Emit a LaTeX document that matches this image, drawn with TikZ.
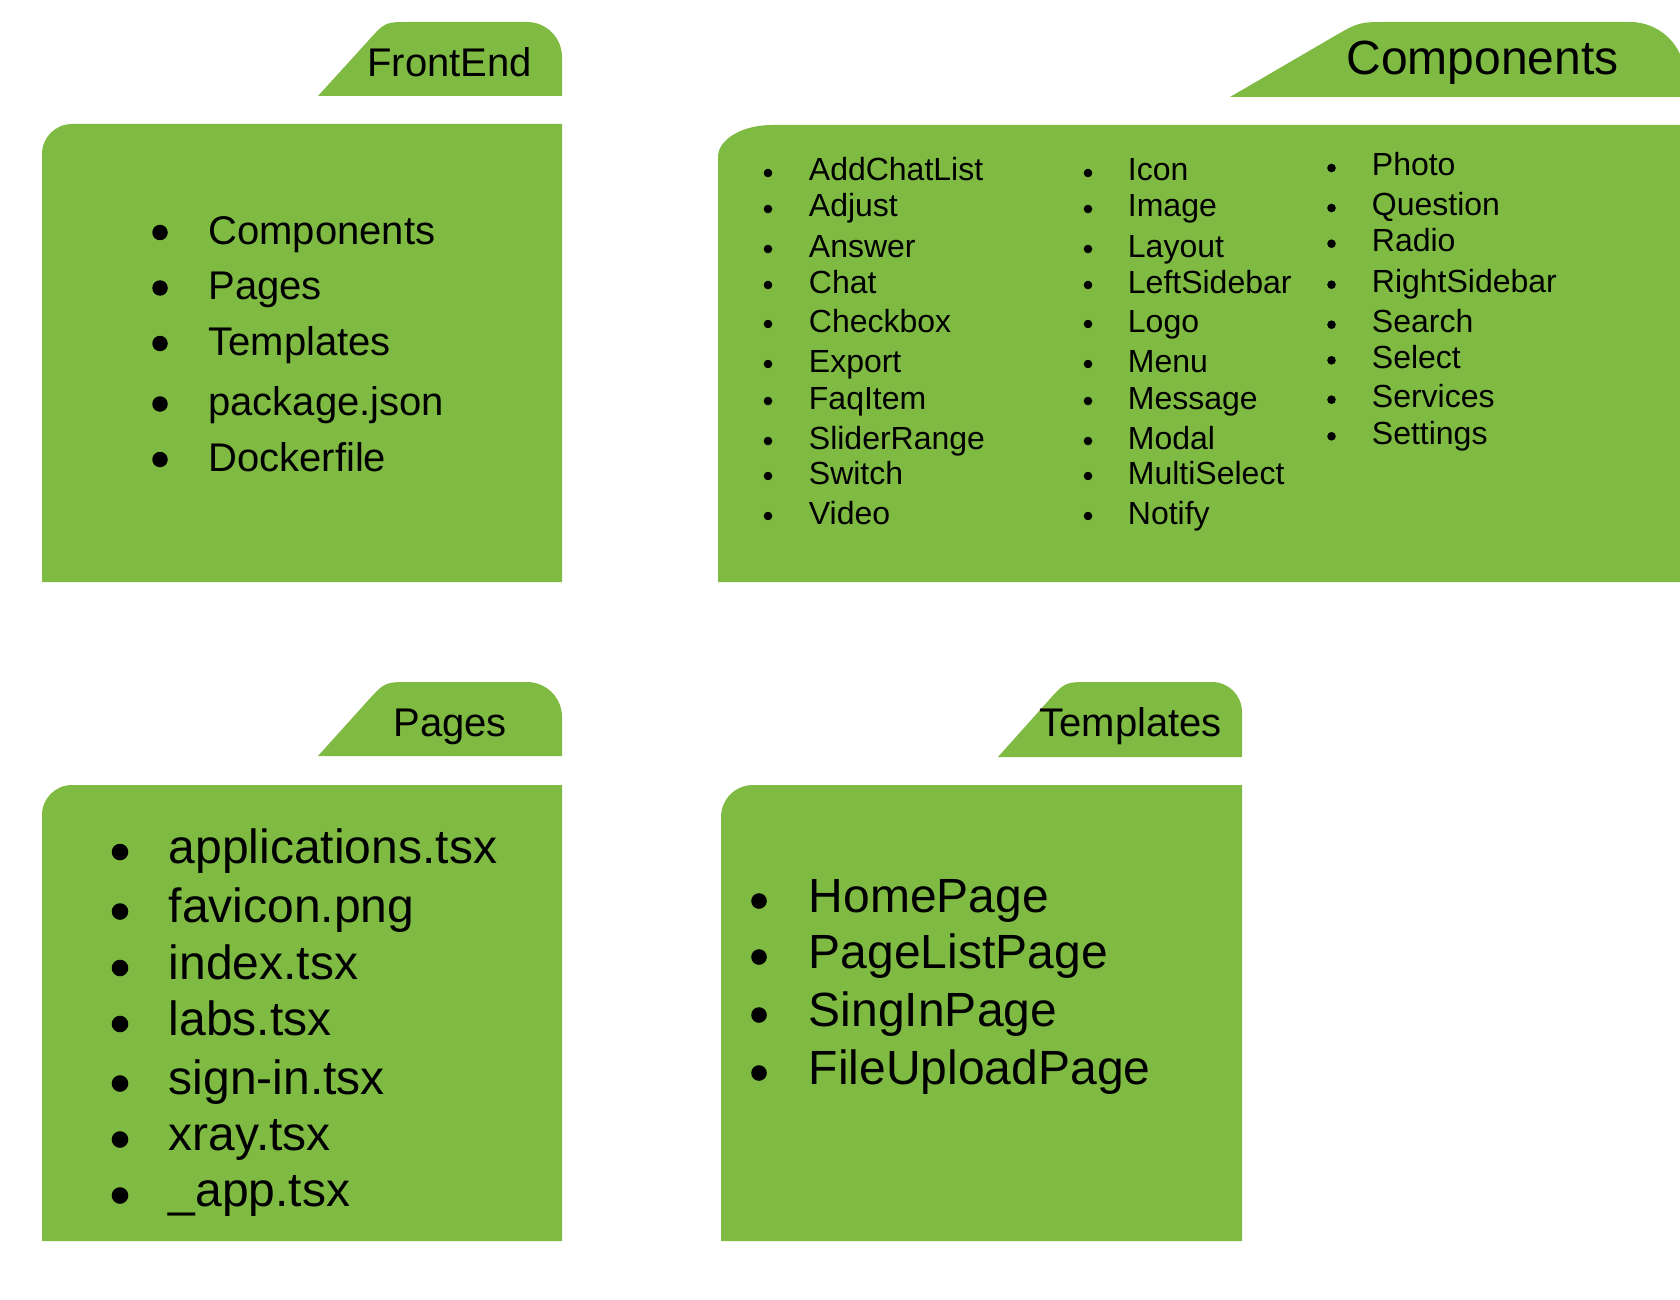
\documentclass[tikz,border=0pt]{standalone}
\usepackage{fontspec}
\setmainfont{Liberation Sans}
\usepackage{xcolor}
\definecolor{foldergreen}{RGB}{127,186,66}

\tikzset{
	folder/.style={fill=foldergreen},
	entry/.style={anchor=base west, inner sep=0pt},
	dot/.style={circle, fill=black, inner sep=0pt, minimum size=#1},
	tabtitle/.style={entry, font=\fontsize{20}{24}\selectfont},
	feitem/.style={entry, font=\fontsize{20}{24}\selectfont},
	compitem/.style={entry, font=\fontsize{16}{19}\selectfont},
	bigitem/.style={entry, font=\fontsize{24}{28}\selectfont}
}

\begin{document}
\begin{tikzpicture}[x=0.5pt,y=-0.5pt]
	\useasboundingbox (0,0) rectangle (1680,1300);
	\clip (0,0) rectangle (1680,1300);
	
	% FrontEnd
	\fill[folder] (318,96) -- (368,41) .. controls (385,22) .. (410,22) -- (527,22)
		arc[start angle=270,end angle=360,radius=35] -- (562,96) -- cycle;
	\fill[folder] (42,582) -- (42,154) arc[start angle=180,end angle=270,radius=30]
		-- (562,124) -- (562,582) -- cycle;
	\node[tabtitle] (frontend) at (367,77) {FrontEnd};
	\foreach \t/\by [count=\i] in {Components/244,Pages/299.5,Templates/355,package.json/415.5,Dockerfile/471} {
		\node[dot=7.75pt] (fedot\i) at (160,\by-11.5) {};
		\node[feitem] (fe\i) at (208,\by) {\t};
	}
	
	% Components
	\fill[folder] (1230,97) -- (1333,37) .. controls (1359,22) .. (1389,22) -- (1630,22)
		arc[start angle=270,end angle=360,radius=55] -- (1690,97) -- cycle;
	\fill[folder] (718,582) -- (718,157) arc[start angle=180,end angle=270,x radius=54,y radius=32]
		-- (1690,125) -- (1690,582) -- cycle;
	\node[entry, font=\fontsize{24}{28}\selectfont] (components) at (1346,75) {Components};
	\foreach \t/\by [count=\i] in {AddChatList/181,Adjust/217,Answer/257,Chat/293,Checkbox/332,Export/372,FaqItem/409,SliderRange/449,Switch/484,Video/524} {
		\node[dot=4.3pt] (cadot\i) at (768,\by-8) {};
		\node[compitem] (ca\i) at (808.5,\by) {\t};
	}
	\foreach \t/\by [count=\i] in {Icon/181,Image/217,Layout/257,LeftSidebar/293,Logo/332,Menu/372,Message/409,Modal/449,MultiSelect/484,Notify/524} {
		\node[dot=4.3pt] (cbdot\i) at (1088,\by-8) {};
		\node[compitem] (cb\i) at (1127.5,\by) {\t};
	}
	\foreach \t/\by [count=\i] in {Photo/176,Question/216,Radio/251.7,RightSidebar/292.7,Search/332.7,Select/368.3,Services/407.7,Settings/444.3} {
		\node[dot=4.3pt] (ccdot\i) at (1331.5,\by-8) {};
		\node[compitem] (cc\i) at (1371.5,\by) {\t};
	}
	
	% Pages
	\fill[folder] (318,756) -- (368,700.5) .. controls (385,682) .. (410,682) -- (527,682)
		arc[start angle=270,end angle=360,radius=35] -- (562,756) -- cycle;
	\fill[folder] (42,1241) -- (42,815) arc[start angle=180,end angle=270,radius=30]
		-- (562,785) -- (562,1241) -- cycle;
	\node[tabtitle] (pages) at (393,736) {Pages};
	\foreach \t/\by [count=\i] in {applications.tsx/863,favicon.png/922.5,index.tsx/979,labs.tsx/1035,sign-in.tsx/1094.5,xray.tsx/1150.5,\_app.tsx/1206.5} {
		\node[dot=8.3pt] (pgdot\i) at (120,\by-11) {};
		\node[bigitem] (pg\i) at (168.5,\by) {\t};
	}
	
	% Templates
	\fill[folder] (998,757) -- (1048.4,700.6) .. controls (1065,682) .. (1090,682) -- (1212,682)
		arc[start angle=270,end angle=360,radius=30] -- (1242,757) -- cycle;
	\fill[folder] (721,1241) -- (721,817) arc[start angle=180,end angle=270,radius=32]
		-- (1242,785) -- (1242,1241) -- cycle;
	\node[tabtitle] (templates) at (1039,736) {Templates};
	\foreach \t/\by [count=\i] in {HomePage/912,PageListPage/968,SingInPage/1026,FileUploadPage/1084} {
		\node[dot=7.8pt] (tpdot\i) at (759,\by-11) {};
		\node[bigitem] (tp\i) at (808.5,\by) {\t};
	}
\end{tikzpicture}
\end{document}
